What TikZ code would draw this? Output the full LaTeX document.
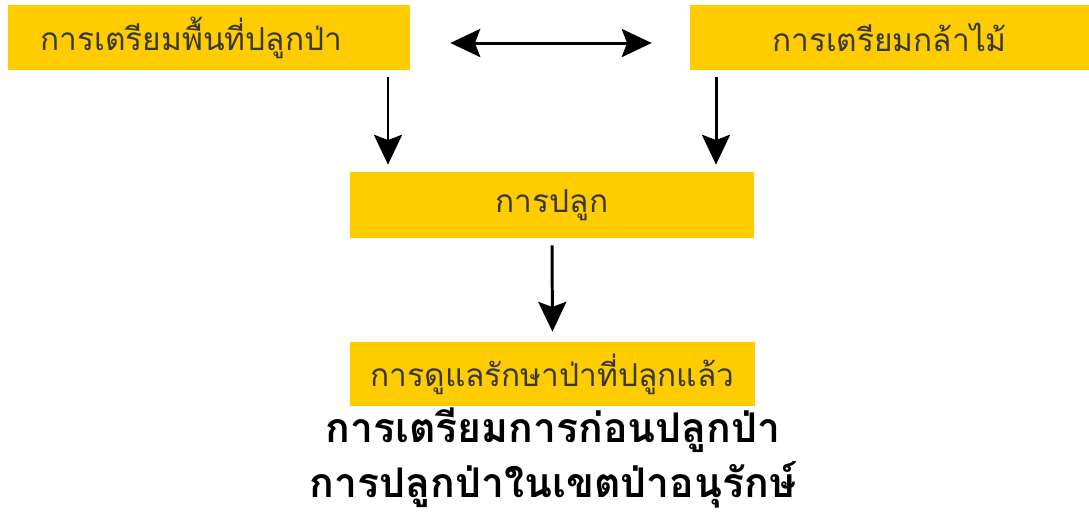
\documentclass[tikz,border=0pt]{standalone}
\usepackage{fontspec}
\newfontfamily\thaifont[Script=Thai]{Loma}
\usetikzlibrary{arrows.meta, positioning}
\definecolor{boxyellow}{HTML}{FFCC00}
\tikzset{>={Stealth[length=17pt,width=16pt,inset=3pt]}}
\tikzset{
  box/.style={fill=boxyellow, text=black!78, inner sep=0pt,
    font=\thaifont\fontsize{18}{21}\selectfont},
  flow/.style={->, line width=1.7pt}
}

\begin{document}
\begin{tikzpicture}[x=0.02cm, y=-0.02cm]
      \useasboundingbox (0,0) rectangle (1089,512);

      \node[box, minimum width=402*0.02cm, minimum height=65*0.02cm]	(S1)	at	(209,37.5)	{\hspace*{-20pt}การเตรียมพื้นที่ปลูกป่า};
      \node[box, minimum width=399*0.02cm, minimum height=65*0.02cm]	(S2)	at	(889.5,37.5)	{การเตรียมกล้าไม้};
      \node[box, minimum width=404*0.02cm, minimum height=66*0.02cm]	(S3)	at	(552,205)	{การปลูก};
      \node[box, minimum width=405*0.02cm, minimum height=64*0.02cm]	(S4)	at	(552.5,374)	{การดูแลรักษาป่าที่ปลูกแล้ว};

      \coordinate	(L)	at	(388,0);
      \coordinate	(R)	at	(716,0);

      % arrows between the boxes
      \draw[flow, <->, shorten <=40*0.02cm, shorten >=38*0.02cm]
            ([shift={(0,5.5)}]S1.east) -- ([shift={(0,5.5)}]S2.west);
      \draw[flow, shorten <=7*0.02cm, shorten >=7*0.02cm] (S1.south -| L) -- (S3.north -| L);
      \draw[flow, shorten <=7*0.02cm, shorten >=7*0.02cm] (S2.south -| R) -- (S3.north -| R);
      \draw[flow, shorten <=7*0.02cm, shorten >=10*0.02cm] (S3.south) -- (S4.north);

      % title
      \node[font=\thaifont\bfseries\fontsize{23.3}{28}\selectfont, align=center, inner sep=0pt]
            (T)	at	(553,458)	{การเตรียมการก่อนปลูกป่า\\[3pt]การปลูกป่าในเขตป่าอนุรักษ์};
\end{tikzpicture}
\end{document}
